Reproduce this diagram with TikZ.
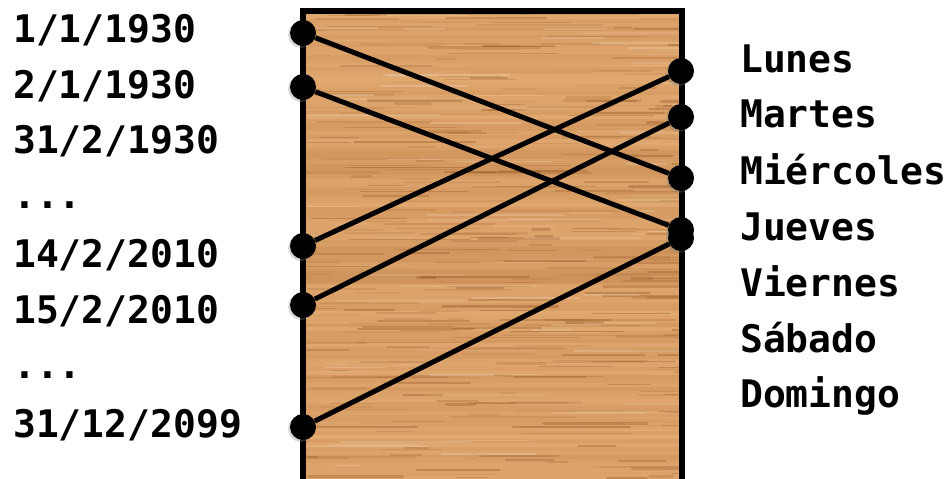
\documentclass[tikz,border=0pt]{standalone}
\usepackage{fontspec}
\newfontfamily\monob{DejaVu Sans Mono}
\usetikzlibrary{shadows}
\definecolor{woodlight}{RGB}{226,172,116}
\definecolor{woodmid}{RGB}{206,144,86}
\definecolor{wooddark}{RGB}{140,80,30}
\tikzset{
  lbl/.style={anchor=base west, inner sep=0pt, font=\monob\bfseries\fontsize{38}{38}\selectfont},
  dot/.style={circle, fill=black, inner sep=0pt, minimum size=26pt,
    drop shadow={shadow xshift=-2pt, shadow yshift=-2pt, opacity=0.3}},
  conn/.style={line width=5pt, black},
  board/.style={line width=5.5pt, black}
}
\begin{document}
\begin{tikzpicture}[x=1pt,y=-1pt]
\useasboundingbox (0,0) rectangle (950,479);
% wood board
\begin{scope}
\clip (303,11) rectangle (682,485);
\pgfmathsetseed{11}
\foreach \k in {0,...,118}{
  \pgfmathsetmacro{\t}{int(35+55*rnd)}
  \fill[woodlight!\t!woodmid] (303,11+4*\k) rectangle (682,15.2+4*\k);
}
\fill[wooddark, opacity=0.10] (303,240) rectangle (682,262);
\fill[wooddark, opacity=0.12] (303,268) rectangle (682,285);
\fill[wooddark, opacity=0.06] (303,150) rectangle (682,175);
\foreach \k in {1,...,300}{
  \pgfmathsetmacro{\yy}{11+470*rnd}
  \pgfmathsetmacro{\xa}{290+392*rnd}
  \pgfmathsetmacro{\len}{15+110*rnd}
  \pgfmathsetmacro{\op}{0.08+0.28*rnd}
  \pgfmathsetmacro{\lw}{0.8+2*rnd}
  \draw[wooddark, opacity=\op, line width=\lw pt, line cap=round] (\xa,\yy) -- ++(\len,0);
}
\foreach \k in {1,...,100}{
  \pgfmathsetmacro{\yy}{11+470*rnd}
  \pgfmathsetmacro{\xa}{290+392*rnd}
  \pgfmathsetmacro{\len}{20+120*rnd}
  \pgfmathsetmacro{\op}{0.06+0.14*rnd}
  \draw[white, opacity=\op, line width=1.6pt, line cap=round] (\xa,\yy) -- ++(\len,0);
}
\end{scope}
\draw[board] (303,11) -- (682,11);
\draw[board] (303,8.3) -- (303,485);
\draw[board] (682,8.3) -- (682,485);
% left labels
\node[lbl] (d1) at (13,42) {1/1/1930};
\node[lbl] (d2) at (13,98) {2/1/1930};
\node[lbl] (d3) at (13,153) {31/2/1930};
\node[lbl] (d4) at (13,208) {...};
\node[lbl] (d5) at (13,267) {14/2/2010};
\node[lbl] (d6) at (13,323) {15/2/2010};
\node[lbl] (d7) at (13,378) {...};
\node[lbl] (d8) at (13,437) {31/12/2099};
% right labels
\node[lbl] (w1) at (740,72) {Lunes};
\node[lbl] (w2) at (740,127) {Martes};
\node[lbl] (w3) at (740,184) {Miércoles};
\node[lbl] (w4) at (740,240) {Jueves};
\node[lbl] (w5) at (740,296) {Viernes};
\node[lbl] (w6) at (740,352) {Sábado};
\node[lbl] (w7) at (740,407) {Domingo};
% dots
\node[dot] (l1) at (303,33) {};
\node[dot] (l2) at (303,87) {};
\node[dot] (l5) at (303,246) {};
\node[dot] (l6) at (303,305) {};
\node[dot] (l8) at (303,427) {};
\node[dot] (r1) at (681,71) {};
\node[dot] (r2) at (681,117) {};
\node[dot] (r3) at (681,178) {};
\node[dot] (r4a) at (681,230) {};
\node[dot] (r4b) at (681,238) {};
% connectors
\draw[conn] (l1) -- (r3);
\draw[conn] (l2) -- (r4a);
\draw[conn] (l5) -- (r1);
\draw[conn] (l6) -- (r2);
\draw[conn] (l8) -- (r4b);
\end{tikzpicture}
\end{document}
